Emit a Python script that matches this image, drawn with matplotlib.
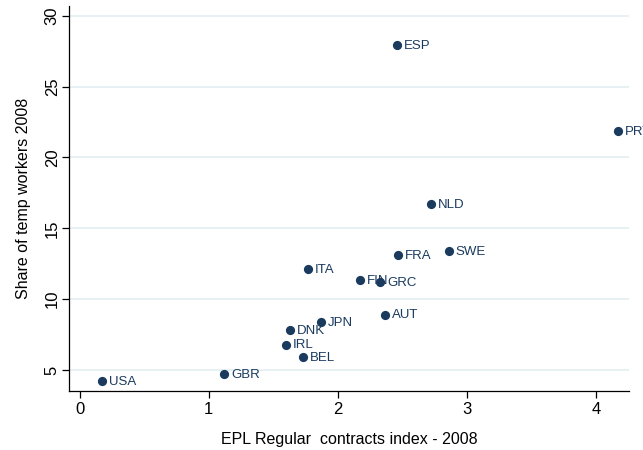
import matplotlib
matplotlib.use("Agg")
import matplotlib.pyplot as plt

plt.rcParams["font.family"] = ["Liberation Sans", "DejaVu Sans"]

countries = ["USA", "GBR", "BEL", "IRL", "DNK", "JPN", "AUT", "FIN", "GRC",
             "ITA", "FRA", "SWE", "NLD", "ESP", "PRT"]
epl_regular = [0.17, 1.12, 1.73, 1.60, 1.63, 1.87, 2.37, 2.17, 2.33,
               1.77, 2.47, 2.86, 2.72, 2.46, 4.17]
temp_share = [4.2, 4.7, 5.9, 6.8, 7.8, 8.4, 8.9, 11.35, 11.2,
              12.1, 13.1, 13.4, 16.7, 27.95, 21.85]

x_ticks = [0, 1, 2, 3, 4]
y_ticks = [5, 10, 15, 20, 25, 30]

navy = "#1a3a5e"
grid_col = "#e3eef0"

fig = plt.figure(figsize=(6.43, 4.5), dpi=100)
ax = fig.add_axes([0.108, 0.131, 0.870, 0.856])

ax.scatter(epl_regular, temp_share, s=44, color=navy, zorder=3, linewidths=0)
for name, xv, yv in zip(countries, epl_regular, temp_share):
    ax.annotate(name, (xv, yv), xytext=(5, -0.5), textcoords="offset points",
                va="center", ha="left", fontsize=9.5, color=navy,
                annotation_clip=False, clip_on=False)

ax.set_xlim(-0.079, 4.256)
ax.set_ylim(3.52, 30.7)
ax.set_xticks(x_ticks)
ax.set_yticks(y_ticks)
ax.set_xticklabels([str(t) for t in x_ticks], fontsize=12)
ax.set_yticklabels([str(t) for t in y_ticks], fontsize=12, rotation=90, va="center")
ax.tick_params(axis="both", length=5, width=0.9, color="black")
ax.tick_params(axis="x", pad=3)
ax.tick_params(axis="y", pad=2)

ax.grid(axis="y", color=grid_col, linewidth=1.2, zorder=0)
ax.set_axisbelow(True)
for side in ["top", "right"]:
    ax.spines[side].set_visible(False)
for side in ["left", "bottom"]:
    ax.spines[side].set_linewidth(0.9)

ax.set_xlabel("EPL Regular  contracts index - 2008", fontsize=11.5, labelpad=11)
ax.set_ylabel("Share of temp workers 2008", fontsize=11.5, labelpad=10)

fig.savefig("out.png", dpi=100)
